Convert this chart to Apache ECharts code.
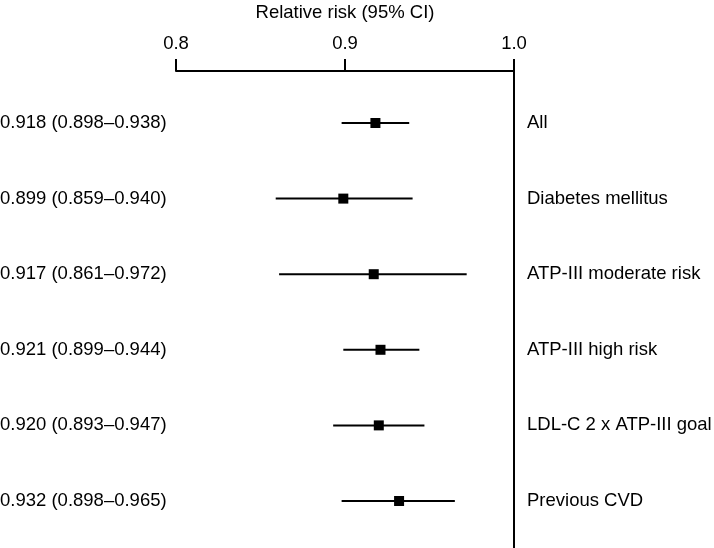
<!DOCTYPE html>
<html>
<head>
<meta charset="utf-8">
<script src="https://cdn.jsdelivr.net/npm/echarts@6/dist/echarts.min.js"></script>
<style>
html, body { margin: 0; padding: 0; background: #fff; }
#main { width: 714px; height: 548px; }
</style>
</head>
<body>
<div id="main"></div>
<script>
// subgroups, top to bottom
var groups = ['All', 'Diabetes mellitus', 'ATP-III moderate risk', 'ATP-III high risk', 'LDL-C 2 x ATP-III goal', 'Previous CVD'];
var rr = [0.918, 0.899, 0.917, 0.921, 0.920, 0.932];
var lower = [0.898, 0.859, 0.861, 0.899, 0.893, 0.898];
var upper = [0.938, 0.940, 0.972, 0.944, 0.947, 0.965];
var xTicks = [0.8, 0.9, 1.0];

var FONT = 'Liberation Sans, Arial, sans-serif';

var rows = groups.map(function (g, i) {
  return [i, rr[i], lower[i], upper[i]];
});

function ciText(i) {
  return rr[i].toFixed(3) + ' (' + lower[i].toFixed(3) + '\u2013' + upper[i].toFixed(3) + ')';
}

function renderItem(params, api) {
  var i = api.value(0);
  var p = api.coord([api.value(1), i]);
  var pl = api.coord([api.value(2), i]);
  var ph = api.coord([api.value(3), i]);
  var ref = api.coord([xTicks[xTicks.length - 1], i]);
  return {
    type: 'group',
    children: [
      { type: 'line', shape: { x1: pl[0], y1: pl[1], x2: ph[0], y2: ph[1] }, style: { stroke: '#000', lineWidth: 2 } },
      { type: 'rect', shape: { x: p[0] - 5, y: p[1] - 5, width: 10, height: 10 }, style: { fill: '#000' } },
      { type: 'text', x: 0, y: p[1], style: { text: ciText(i), fill: '#000', font: '18.5px ' + FONT, align: 'left', verticalAlign: 'middle' } },
      { type: 'text', x: ref[0] + 13, y: p[1], style: { text: groups[i], fill: '#000', font: '18.5px ' + FONT, align: 'left', verticalAlign: 'middle' } }
    ]
  };
}

var chart = echarts.init(document.getElementById('main'), null, { renderer: 'canvas' });

var option = {
  backgroundColor: '#fff',
  animation: false,
  grid: { left: 176, right: 200, top: 71, bottom: 0, containLabel: false, outerBoundsMode: 'none' },
  xAxis: {
    type: 'value',
    position: 'top',
    min: xTicks[0],
    max: xTicks[xTicks.length - 1],
    interval: 0.1,
    name: 'Relative risk (95% CI)',
    nameLocation: 'middle',
    nameGap: 49,
    nameTextStyle: { color: '#000', fontSize: 18.5, fontFamily: FONT },
    axisLine: { show: true, onZero: false, lineStyle: { color: '#000', width: 2 } },
    axisTick: { show: true, length: 12, lineStyle: { color: '#000', width: 2 } },
    axisLabel: {
      color: '#000', fontSize: 18.5, fontFamily: FONT, margin: 18,
      formatter: function (v) { return v.toFixed(1); }
    },
    splitLine: { show: false }
  },
  yAxis: {
    type: 'value',
    position: 'right',
    inverse: true,
    min: -0.688,
    max: 5.622,
    axisLine: { show: true, onZero: false, lineStyle: { color: '#000', width: 2 } },
    axisTick: { show: false },
    axisLabel: { show: false },
    splitLine: { show: false }
  },
  series: [{
    type: 'custom',
    renderItem: renderItem,
    clip: false,
    encode: { x: [1, 2, 3], y: 0 },
    data: rows
  }]
};

chart.setOption(option);
</script>
</body>
</html>
